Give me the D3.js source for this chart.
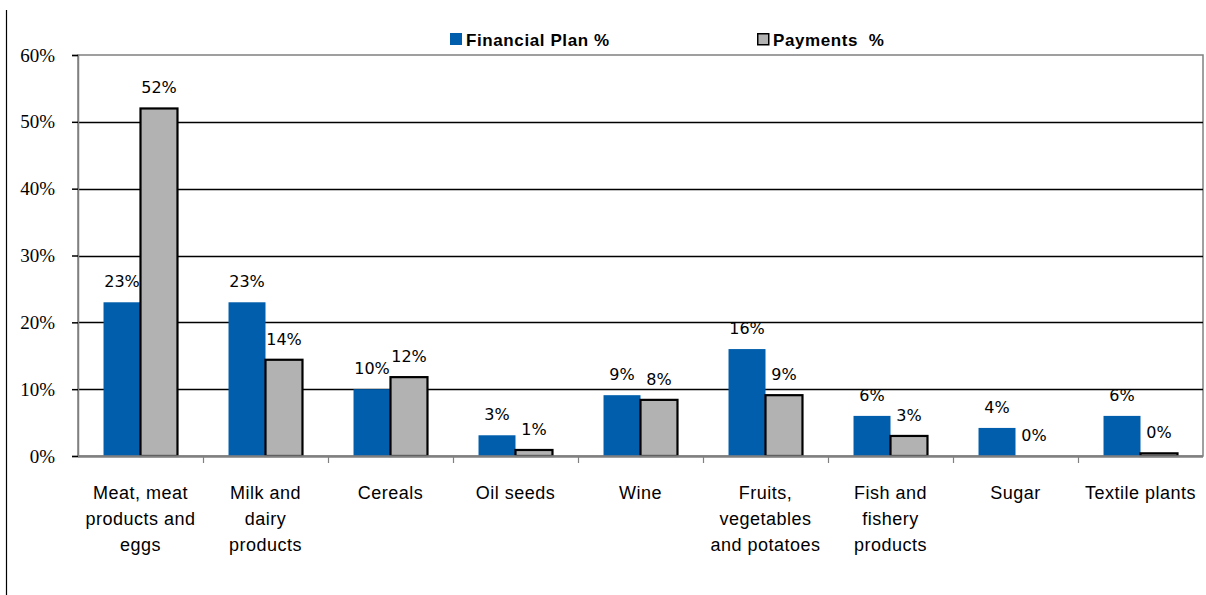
<!DOCTYPE html>
<html>
<head>
<meta charset="utf-8">
<script src="https://cdn.jsdelivr.net/npm/d3@7"></script>
<style>
  body { margin: 0; background: #fff; }
  svg { display: block; }
  .pre { white-space: pre; }
</style>
</head>
<body>
<svg id="chart" width="1206" height="595"></svg>
<script>
// Share of each product sector in the financial plan vs. actual payments
const categories = [
  ["Meat, meat", "products and", "eggs"],
  ["Milk and", "dairy", "products"],
  ["Cereals"],
  ["Oil seeds"],
  ["Wine"],
  ["Fruits,", "vegetables", "and potatoes"],
  ["Fish and", "fishery", "products"],
  ["Sugar"],
  ["Textile plants"]
];
const financialPlan = [0.23, 0.23, 0.10, 0.031, 0.091, 0.16, 0.06, 0.042, 0.06];
const payments      = [0.52, 0.144, 0.118, 0.009, 0.084, 0.091, 0.03, 0.0, 0.004];
const seriesNames = ["Financial Plan %", "Payments  %"];
const yTicks = [0, 0.1, 0.2, 0.3, 0.4, 0.5, 0.6];

const svg = d3.select("#chart");
const plotLeft = 78, plotRight = 1203, plotTop = 55, plotBottom = 456;

const x = d3.scaleBand().domain(d3.range(categories.length)).range([plotLeft, plotRight]).paddingInner(0).paddingOuter(0);
const inner = d3.scaleBand().domain([0, 1]).range([0, x.bandwidth()]).paddingInner(0).paddingOuter(0.69);
const y = d3.scaleLinear().domain([0, 0.6]).range([plotBottom, plotTop]);
const pct = d3.format(".0%");

// outer frame line on the left
svg.append("line").attr("x1", 6.5).attr("x2", 6.5).attr("y1", 10).attr("y2", 595)
  .attr("stroke", "#000").attr("stroke-width", 1.2);

// plot frame
svg.append("rect").attr("x", plotLeft).attr("y", plotTop).attr("width", plotRight - plotLeft).attr("height", plotBottom - plotTop)
  .attr("fill", "none").attr("stroke", "#808080").attr("stroke-width", 1.5);

// gridlines
svg.append("g").selectAll("line").data(yTicks.filter(d => d > 0 && d < 0.6)).join("line")
  .attr("x1", plotLeft).attr("x2", plotRight).attr("y1", d => Math.round(y(d)) + 0.5).attr("y2", d => Math.round(y(d)) + 0.5)
  .attr("stroke", "#000").attr("stroke-width", 1.6);

// y axis
const yAxis = d3.axisLeft(y).tickValues(yTicks).tickFormat(pct).tickSize(6).tickPadding(17);
const yg = svg.append("g").attr("transform", `translate(${plotLeft},0)`).call(yAxis);
yg.select(".domain").attr("stroke", "#808080").attr("stroke-width", 1.5);
yg.selectAll(".tick line").attr("stroke", "#000").attr("stroke-width", 1.5);
yg.selectAll(".tick text").attr("font-family", "'Liberation Serif', serif").attr("font-size", 19).attr("fill", "#000");

// bars
const groups = svg.append("g").selectAll("g").data(categories).join("g")
  .attr("transform", (d, i) => `translate(${x(i)},0)`);

groups.append("rect")
  .attr("x", inner(0)).attr("width", inner.bandwidth())
  .attr("y", (d, i) => y(financialPlan[i])).attr("height", (d, i) => plotBottom - y(financialPlan[i]))
  .attr("fill", "#005EAC");

groups.filter((d, i) => payments[i] > 0).append("rect")
  .attr("x", inner(1)).attr("width", inner.bandwidth())
  .attr("y", d => y(payments[categories.indexOf(d)])).attr("height", d => plotBottom - y(payments[categories.indexOf(d)]))
  .attr("fill", "#B2B2B2").attr("stroke", "#000").attr("stroke-width", 2.2);

// value labels
const labelFont = "'DejaVu Sans', sans-serif";
groups.append("text")
  .attr("x", inner(0) + inner.bandwidth() / 2).attr("y", (d, i) => y(financialPlan[i]) - 15)
  .attr("text-anchor", "middle").attr("font-family", labelFont).attr("font-size", 16)
  .text((d, i) => pct(financialPlan[i]));
groups.append("text")
  .attr("x", inner(1) + inner.bandwidth() / 2).attr("y", (d, i) => y(payments[i]) - 15)
  .attr("text-anchor", "middle").attr("font-family", labelFont).attr("font-size", 16)
  .text((d, i) => pct(payments[i]));

// x axis baseline and ticks
svg.append("line").attr("x1", plotLeft).attr("x2", plotRight).attr("y1", plotBottom + 0.5).attr("y2", plotBottom + 0.5)
  .attr("stroke", "#808080").attr("stroke-width", 2.5);
svg.append("g").selectAll("line").data(d3.range(1, categories.length)).join("line")
  .attr("x1", i => x(i) + 0.5).attr("x2", i => x(i) + 0.5).attr("y1", plotBottom).attr("y2", plotBottom + 7)
  .attr("stroke", "#808080").attr("stroke-width", 1.2);

// category labels
const catText = groups.append("text")
  .attr("text-anchor", "middle").attr("font-family", "'Liberation Sans', Arial, sans-serif")
  .attr("font-size", 18).attr("letter-spacing", 0.5).attr("fill", "#000");
catText.selectAll("tspan").data(d => d).join("tspan")
  .attr("x", x.bandwidth() / 2).attr("y", (d, j) => 499 + j * 26).text(d => d);

// legend
const legend = svg.append("g").attr("font-family", "'Liberation Sans', Arial, sans-serif")
  .attr("font-weight", "bold").attr("font-size", 17);
const legendX = [450, 757];
const legendColors = ["#005EAC", "#B2B2B2"];
seriesNames.forEach((name, i) => {
  const g = legend.append("g").attr("transform", `translate(${legendX[i]},33)`);
  g.append("rect").attr("x", i === 1 ? 0.75 : 0).attr("y", i === 1 ? 0.75 : 0)
    .attr("width", i === 1 ? 11 : 12).attr("height", i === 1 ? 11 : 12)
    .attr("fill", legendColors[i]).attr("stroke", i === 1 ? "#000" : "none").attr("stroke-width", 1.5);
  g.append("text").attr("class", "pre").attr("x", 16).attr("y", 13).attr("letter-spacing", 0.6).text(name);
});
</script>
</body>
</html>
